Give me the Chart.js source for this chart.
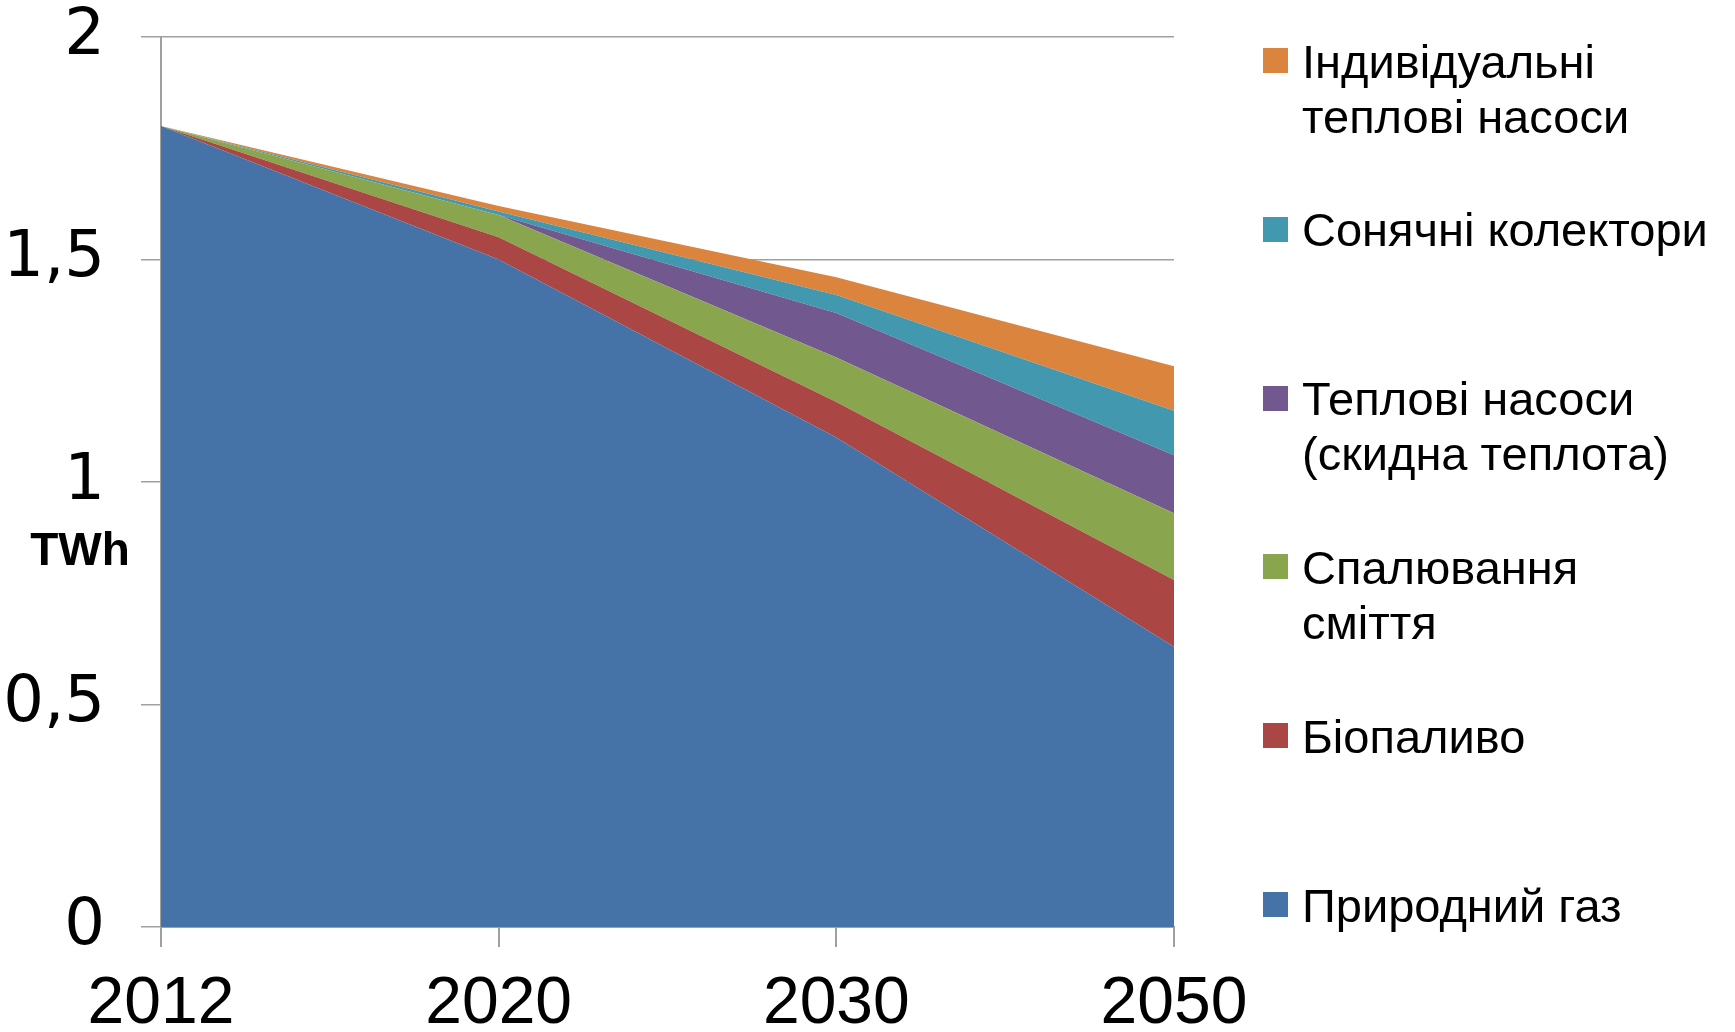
<!DOCTYPE html>
<html>
<head>
<meta charset="utf-8">
<script src="https://cdn.jsdelivr.net/npm/chart.js@4/dist/chart.umd.min.js"></script>
<style>
    html, body { margin: 0; padding: 0; background: #ffffff; }
    #wrap { position: relative; width: 1735px; height: 1032px; }
    #unit {
        position: absolute; left: 0; top: 526px; width: 160px;
        text-align: center; font: bold 46px "Liberation Sans", Arial, sans-serif;
        line-height: 46px; color: #000;
    }
    .legend-item { position: absolute; left: 1263px; }
    .legend-box { position: absolute; left: 0; width: 25px; height: 25px; }
    .legend-text {
        position: absolute; left: 39px; white-space: pre; color: #000;
        font: 47px "Liberation Sans", Arial, sans-serif; line-height: 55px;
    }
</style>
</head>
<body>
<div id="wrap">
    <canvas id="heatChart"></canvas>
    <div id="unit">TWh</div>
    <div id="legend"></div>
</div>
<script>
// Categories (years) and stacked series, TWh
const years = ["2012", "2020", "2030", "2050"];
const gasValues = [1.8, 1.5, 1.1, 0.63];
const biofuelValues = [0, 0.05, 0.08, 0.15];
const wasteValues = [0, 0.05, 0.1, 0.15];
const wasteHeatPumpValues = [0, 0, 0.1, 0.13];
const solarValues = [0, 0.008, 0.04, 0.1];
const individualPumpValues = [0, 0.012, 0.04, 0.1];
const yTicks = [0, 0.5, 1, 1.5, 2];

const seriesLabels = [
    "Природний газ",
    "Біопаливо",
    "Спалювання\nсміття",
    "Теплові насоси\n(скидна теплота)",
    "Сонячні колектори",
    "Індивідуальні\nтеплові насоси"
];
const seriesColors = ["#4572A7", "#AA4643", "#89A54E", "#71588F", "#4198AF", "#DB843D"];
const seriesValues = [gasValues, biofuelValues, wasteValues, wasteHeatPumpValues, solarValues, individualPumpValues];

const gridColor = "#a0a0a0";

const datasets = seriesValues.map((vals, i) => ({
    label: seriesLabels[i],
    data: vals,
    backgroundColor: seriesColors[i],
    borderColor: seriesColors[i],
    borderWidth: 0,
    pointRadius: 0,
    tension: 0,
    fill: i === 0 ? "origin" : "-1"
}));

const ctx = document.getElementById("heatChart").getContext("2d");
new Chart(ctx, {
    type: "line",
    data: { labels: years, datasets: datasets },
    options: {
        responsive: true,
        maintainAspectRatio: false,
        animation: false,
        layout: { padding: { top: 37, right: 561, bottom: 0, left: 0 } },
        plugins: { legend: { display: false }, tooltip: { enabled: false } },
        scales: {
            x: {
                offset: false,
                grid: { drawOnChartArea: false, drawTicks: true, tickLength: 20, color: gridColor, lineWidth: 2 },
                border: { display: true, color: gridColor, width: 2 },
                ticks: {
                    color: "#000",
                    padding: 25,
                    maxRotation: 0,
                    font: { family: "'Liberation Sans', sans-serif", size: 66, lineHeight: 1 }
                },
                afterFit: scale => { scale.height = 105; }
            },
            y: {
                stacked: true,
                min: 0,
                max: 2,
                afterBuildTicks: scale => { scale.ticks = yTicks.map(v => ({ value: v })); },
                grid: { color: gridColor, lineWidth: 1.5, tickLength: 20 },
                border: { display: true, color: gridColor, width: 2 },
                ticks: {
                    color: "#000",
                    padding: 36,
                    callback: value => String(value).replace(".", ","),
                    // tiny line height keeps the label from pushing the plot area down
                    font: { family: "'DejaVu Sans', sans-serif", size: 64, lineHeight: 0.02 }
                },
                afterFit: scale => { scale.width = 161; }
            }
        }
    }
});

// Legend on the right, evenly spread, top entry = last series
const legendDiv = document.getElementById("legend");
const firstCenter = 60.5;
const rowStep = 168.8;
for (let k = 0; k < seriesLabels.length; k++) {
    const i = seriesLabels.length - 1 - k;
    const center = firstCenter + k * rowStep;
    const item = document.createElement("div");
    item.className = "legend-item";
    item.style.top = center + "px";
    item.innerHTML = `
        <div class="legend-box" style="top:-12.5px;background:${seriesColors[i]}"></div>
        <div class="legend-text" style="top:-27px"></div>`;
    item.querySelector(".legend-text").textContent = seriesLabels[i];
    legendDiv.appendChild(item);
}
</script>
</body>
</html>
